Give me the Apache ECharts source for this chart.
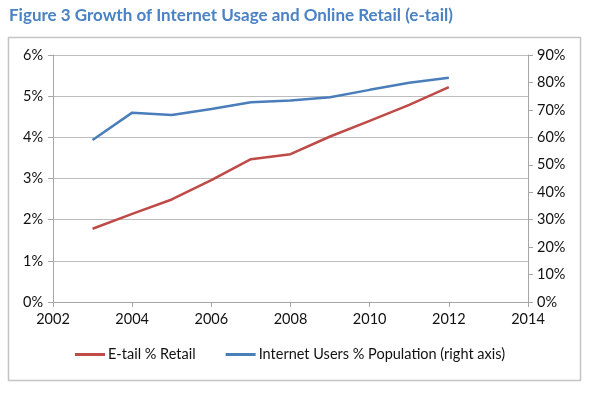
<!DOCTYPE html>
<html><head><meta charset="utf-8">
<script src="https://cdn.jsdelivr.net/npm/echarts@6/dist/echarts.min.js"></script>
<style>html,body{margin:0;padding:0;background:#fff}#c{width:595px;height:393px}</style>
</head><body><div id="c"></div>
<script>
const years = [2003, 2004, 2005, 2006, 2007, 2008, 2009, 2010, 2011, 2012];
const etailPct = [1.78, 2.14, 2.49, 2.96, 3.47, 3.59, 4.02, 4.40, 4.79, 5.22];
const internetPct = [59.0, 69.0, 68.1, 70.3, 72.8, 73.4, 74.6, 77.3, 79.9, 81.7];
const titleText = 'Figure 3 Growth of Internet Usage and Online Retail (e-tail)';
const seriesNames = ['E-tail % Retail', 'Internet Users % Population (right axis)'];

const FONT = 'Lato';
const chart = echarts.init(document.getElementById('c'), null, {renderer: 'canvas'});
const axisLine = {show: true, lineStyle: {color: '#a6a6a6', width: 1}};
const axisTick = {show: true, inside: false, length: 5, lineStyle: {color: '#a6a6a6'}};
const lbl = {color: '#111', fontFamily: FONT, fontSize: 14.5};
chart.setOption({
  animation: false,
  title: {text: titleText, left: 4, top: 2, textStyle: {color: '#4a82c4', fontFamily: FONT, fontWeight: 'bold', fontSize: 17}},
  graphic: [{type: 'rect', shape: {x: 8.5, y: 37.5, width: 572, height: 343}, style: {fill: 'none', stroke: '#c4c4c4', lineWidth: 1.5}, silent: true, z: -1}],
  grid: {left: 53, right: 67, top: 55, bottom: 91},
  legend: {
    bottom: 26, left: 70, itemGap: 30, itemWidth: 30, itemHeight: 3,
    icon: 'rect',
    textStyle: {color: '#111', fontFamily: FONT, fontSize: 14.5, padding: [0, 0, 0, -2]},
    data: seriesNames
  },
  xAxis: {
    type: 'value', min: 2002, max: 2014, interval: 2,
    axisLine: axisLine, axisTick: axisTick, splitLine: {show: false},
    axisLabel: Object.assign({margin: 10, formatter: v => String(v)}, lbl)
  },
  yAxis: [{
    type: 'value', min: 0, max: 6, interval: 1, position: 'left',
    axisLine: axisLine, axisTick: axisTick,
    splitLine: {show: true, lineStyle: {color: '#bdbdbd', width: 1}},
    axisLabel: Object.assign({margin: 10, formatter: v => v + '%'}, lbl)
  }, {
    type: 'value', min: 0, max: 90, interval: 10, position: 'right',
    axisLine: axisLine, axisTick: axisTick, splitLine: {show: false},
    axisLabel: Object.assign({margin: 9, formatter: v => v + '%'}, lbl)
  }],
  series: [{
    name: seriesNames[0], type: 'line', yAxisIndex: 0, symbol: 'none',
    lineStyle: {color: '#be4b48', width: 2.5}, itemStyle: {color: '#be4b48'},
    data: years.map((y, i) => [y, etailPct[i]])
  }, {
    name: seriesNames[1], type: 'line', yAxisIndex: 1, symbol: 'none',
    lineStyle: {color: '#4a7ebb', width: 2.5}, itemStyle: {color: '#4a7ebb'},
    data: years.map((y, i) => [y, internetPct[i]])
  }]
});
</script></body></html>
